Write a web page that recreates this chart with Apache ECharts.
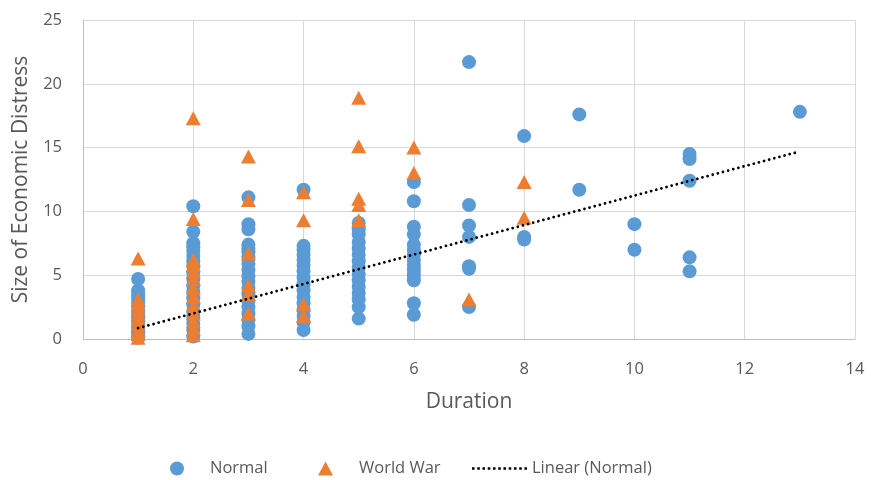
<!DOCTYPE html>
<html><head><meta charset="utf-8">
<script src="https://cdn.jsdelivr.net/npm/echarts@6/dist/echarts.min.js"></script>
<style>html,body{margin:0;padding:0;background:#fff}#c{width:871px;height:480px}</style>
</head><body><div id="c"></div>
<script>
// Normal series: [duration, size]
const normalX1 = [4.7,3.8,3.5,3.2,2.9,2.6,2.3,2.0,1.7,1.4,1.1,0.8,0.5,0.3,0.1];
const normalX2 = [10.4,8.4,7.5,7.2,6.9,6.5,6.1,5.7,5.2,4.7,4.2,3.7,3.2,2.7,2.2,1.7,1.2,0.7,0.2];
const normalX3 = [11.1,9.0,8.6,7.4,7.1,6.8,6.4,5.9,5.4,4.9,4.5,4.0,3.5,3.0,2.5,2.0,1.5,1.0,0.4];
const normalX4 = [11.7,7.3,7.0,6.6,6.2,5.8,5.3,4.8,4.3,3.8,3.3,2.8,2.3,1.8,1.3,0.7];
const normalX5 = [9.1,8.6,8.2,7.6,7.1,6.6,6.1,5.6,5.1,4.6,4.1,3.6,3.1,2.5,1.6];
const normalX6 = [12.3,10.8,8.8,8.2,7.4,7.0,6.6,6.2,5.8,5.4,5.0,4.6,2.8,1.9];
const normalX7 = [21.7,10.5,8.9,8.0,5.7,5.5,2.5];
const normalX8 = [15.9,8.0,7.8];
const normalX9 = [17.6,11.7];
const normalX10 = [9.0,7.0];
const normalX11 = [14.5,14.1,12.4,6.4,5.3];
const normalX13 = [17.8];
// World War series
const warX1 = [6.3,3.1,2.7,2.3,1.9,1.5,1.1,0.7,0.4,0.1];
const warX2 = [17.3,9.4,6.2,5.8,5.3,4.7,4.0,3.3,2.6,2.0,1.4,0.8,0.3];
const warX3 = [14.3,10.9,6.7,4.2,3.5,2.0];
const warX4 = [11.5,9.3,2.7,1.8];
const warX5 = [18.9,15.1,11.0,10.5,9.3];
const warX6 = [15.0,13.0];
const warX7 = [3.1];
const warX8 = [12.3,9.5];
// Linear trendline of Normal, endpoints
const trendX = [1, 13];
const trendY = [0.85, 14.7];
const xTicks = [0,2,4,6,8,10,12,14];
const yTicks = [0,5,10,15,20,25];

function pts(x, arr){ return arr.map(v => [x, v]); }
const normalData = [].concat(
  pts(1,normalX1),pts(2,normalX2),pts(3,normalX3),pts(4,normalX4),pts(5,normalX5),
  pts(6,normalX6),pts(7,normalX7),pts(8,normalX8),pts(9,normalX9),pts(10,normalX10),
  pts(11,normalX11),pts(13,normalX13));
const warData = [].concat(
  pts(1,warX1),pts(2,warX2),pts(3,warX3),pts(4,warX4),pts(5,warX5),
  pts(6,warX6),pts(7,warX7),pts(8,warX8));
const trendData = trendX.map((x,i)=>[x,trendY[i]]);

// dotted legend icon
let dotPath = 'path://';
for (let i = 0; i < 11; i++) { const x0 = i * 5.3; dotPath += 'M' + x0 + ',0h2.6v2.6h-2.6Z'; }

const FONT = 'Open Sans';
const TXT = '#595959';
const chart = echarts.init(document.getElementById('c'), null, {renderer:'canvas'});
const legendBase = {
  top: 455, itemHeight: 14, itemGap: 0,
  selectedMode: false
};
chart.setOption({
  animation: false,
  backgroundColor: '#fff',
  grid: {left: 83, right: 16, top: 20, bottom: 141, containLabel: false},
  xAxis: {
    type: 'value', min: xTicks[0], max: xTicks[xTicks.length-1], interval: 2,
    name: 'Duration', nameLocation: 'middle', nameGap: 53,
    nameTextStyle: {color: TXT, fontFamily: FONT, fontSize: 21},
    axisLine: {show: true, lineStyle: {color: '#bfbfbf', width: 1}},
    axisTick: {show: false},
    axisLabel: {color: TXT, fontFamily: FONT, fontSize: 16.5, margin: 22},
    splitLine: {show: true, lineStyle: {color: '#d9d9d9', width: 1}}
  },
  yAxis: {
    type: 'value', min: yTicks[0], max: yTicks[yTicks.length-1], interval: 5,
    name: 'Size of Economic Distress', nameLocation: 'middle', nameGap: 51,
    nameTextStyle: {color: TXT, fontFamily: FONT, fontSize: 21},
    axisLine: {show: true, lineStyle: {color: '#bfbfbf', width: 1}},
    axisTick: {show: false},
    axisLabel: {color: TXT, fontFamily: FONT, fontSize: 16.5, margin: 21},
    splitLine: {show: true, lineStyle: {color: '#d9d9d9', width: 1}}
  },
  legend: [
    Object.assign({}, legendBase, {left: 165, data: [{name:'Normal', icon:'circle'}], itemWidth: 14,
      textStyle: {color: TXT, fontFamily: FONT, fontSize: 16.5, padding:[0,0,0,21]}}),
    Object.assign({}, legendBase, {left: 313, data: [{name:'World War', icon:'triangle'}], itemWidth: 15,
      textStyle: {color: TXT, fontFamily: FONT, fontSize: 16.5, padding:[0,0,0,21]}}),
    Object.assign({}, legendBase, {left: 467, top: 455, data: [{name:'Linear (Normal)', icon: dotPath}],
      itemWidth: 55, itemHeight: 2.6, itemStyle: {color: '#000'},
      textStyle: {color: TXT, fontFamily: FONT, fontSize: 16.5, padding:[0,0,0,0]}})
  ],
  series: [
    {name:'Normal', type:'scatter', data: normalData, symbol:'circle', symbolSize: 14,
     itemStyle:{color:'#5B9BD5', opacity: 1}, z: 2},
    {name:'World War', type:'scatter', data: warData, symbol:'triangle', symbolSize: [15,14],
     itemStyle:{color:'#ED7D31', opacity: 1}, z: 3},
    {name:'Linear (Normal)', type:'line', data: trendData, symbol:'none', showSymbol:false,
     lineStyle:{color:'#000', width: 2.8, type:[0.01,5.3], cap:'round'}, itemStyle:{color:'#000'}, z: 4,
     silent: true}
  ]
});
</script></body></html>
